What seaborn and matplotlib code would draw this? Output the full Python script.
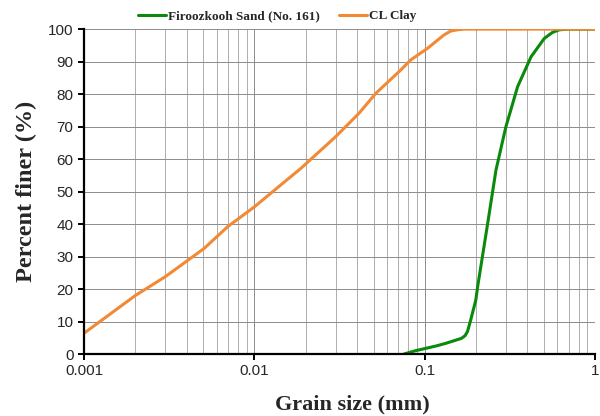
import pandas as pd
import matplotlib.pyplot as plt
import matplotlib.ticker as mticker
import seaborn as sns

# -----------------------------
# Data
# -----------------------------
sand_size = [0.0755, 0.088, 0.1014, 0.117, 0.133, 0.1637, 0.172, 0.178, 0.186,
             0.1992, 0.2042, 0.2339, 0.2616, 0.299, 0.3505, 0.4205, 0.502,
             0.5616, 0.6166, 0.7, 1.0]
sand_finer = [0.0, 1.0, 1.75, 2.5, 3.3, 4.8, 5.6, 6.9, 10.5,
              16.6, 20.7, 40.2, 56.6, 69.9, 82.3, 91.5, 97.1,
              99.0, 99.8, 100.0, 100.0]

clay_size = [0.001, 0.002, 0.003, 0.00396, 0.00507, 0.00697, 0.01, 0.01503,
             0.0187, 0.03, 0.0411, 0.0515, 0.0722, 0.0826, 0.1038, 0.1295,
             0.1417, 0.156, 0.17, 0.2, 0.5, 1.0]
clay_finer = [6.4, 18.0, 23.8, 28.4, 32.5, 39.2, 45.3, 53.0,
              57.1, 66.9, 74.1, 80.2, 87.4, 90.5, 94.1, 98.2,
              99.4, 99.8, 100.0, 100.0, 100.0, 100.0]

labels = ["Firoozkooh Sand (No. 161)", "CL Clay"]
colors = ["#0a8a0a", "#f28a35"]

df = pd.concat([
    pd.DataFrame({"size": sand_size, "finer": sand_finer, "soil": labels[0]}),
    pd.DataFrame({"size": clay_size, "finer": clay_finer, "soil": labels[1]}),
])

sns.set_style("white")

fig = plt.figure(figsize=(6, 4.16), dpi=100)
ax = fig.add_axes([0.14, 0.149, 0.852, 0.781])

sns.lineplot(data=df, x="size", y="finer", hue="soil", palette=colors,
             linewidth=2.2, sort=False, ax=ax)

ax.set_xscale("log")
ax.set_xlim(0.001, 1)
ax.set_ylim(0, 100)
ax.set_yticks(range(0, 101, 10))
ax.xaxis.set_major_formatter(mticker.FuncFormatter(lambda v, p: f"{v:g}"))
ax.xaxis.set_minor_formatter(mticker.NullFormatter())

ax.grid(True, which="major", axis="both", color="#8c8c8c", linewidth=0.7)
ax.grid(True, which="minor", axis="x", color="#a0a0a0", linewidth=0.6)
ax.set_axisbelow(True)

for side in ["top", "right"]:
    ax.spines[side].set_visible(False)
for side in ["left", "bottom"]:
    ax.spines[side].set_color("black")
    ax.spines[side].set_linewidth(1.6)

ax.tick_params(axis="both", which="major", direction="out", length=4, width=1.4,
               labelsize=11, left=True, bottom=True, color="black")
ax.tick_params(axis="x", which="minor", length=0)
for lab in ax.get_xticklabels() + ax.get_yticklabels():
    lab.set_family("Liberation Sans")

ax.set_xlabel("Grain size (mm)", family="Liberation Serif", fontweight="bold",
              fontsize=16, labelpad=10)
ax.xaxis.set_label_coords(0.525, -0.125)
ax.set_ylabel("Percent finer (%)", family="Liberation Serif", fontweight="bold",
              fontsize=17.5, labelpad=8)

leg = ax.legend(loc="lower center", bbox_to_anchor=(0.378, 1.005), ncol=2,
                frameon=False, handlelength=2.1, handletextpad=0.15,
                columnspacing=1.5, borderaxespad=0,
                prop={"family": "Liberation Serif", "weight": "bold", "size": 9.5})
ax.get_legend().set_title(None)

fig.savefig("out.png", dpi=100)
